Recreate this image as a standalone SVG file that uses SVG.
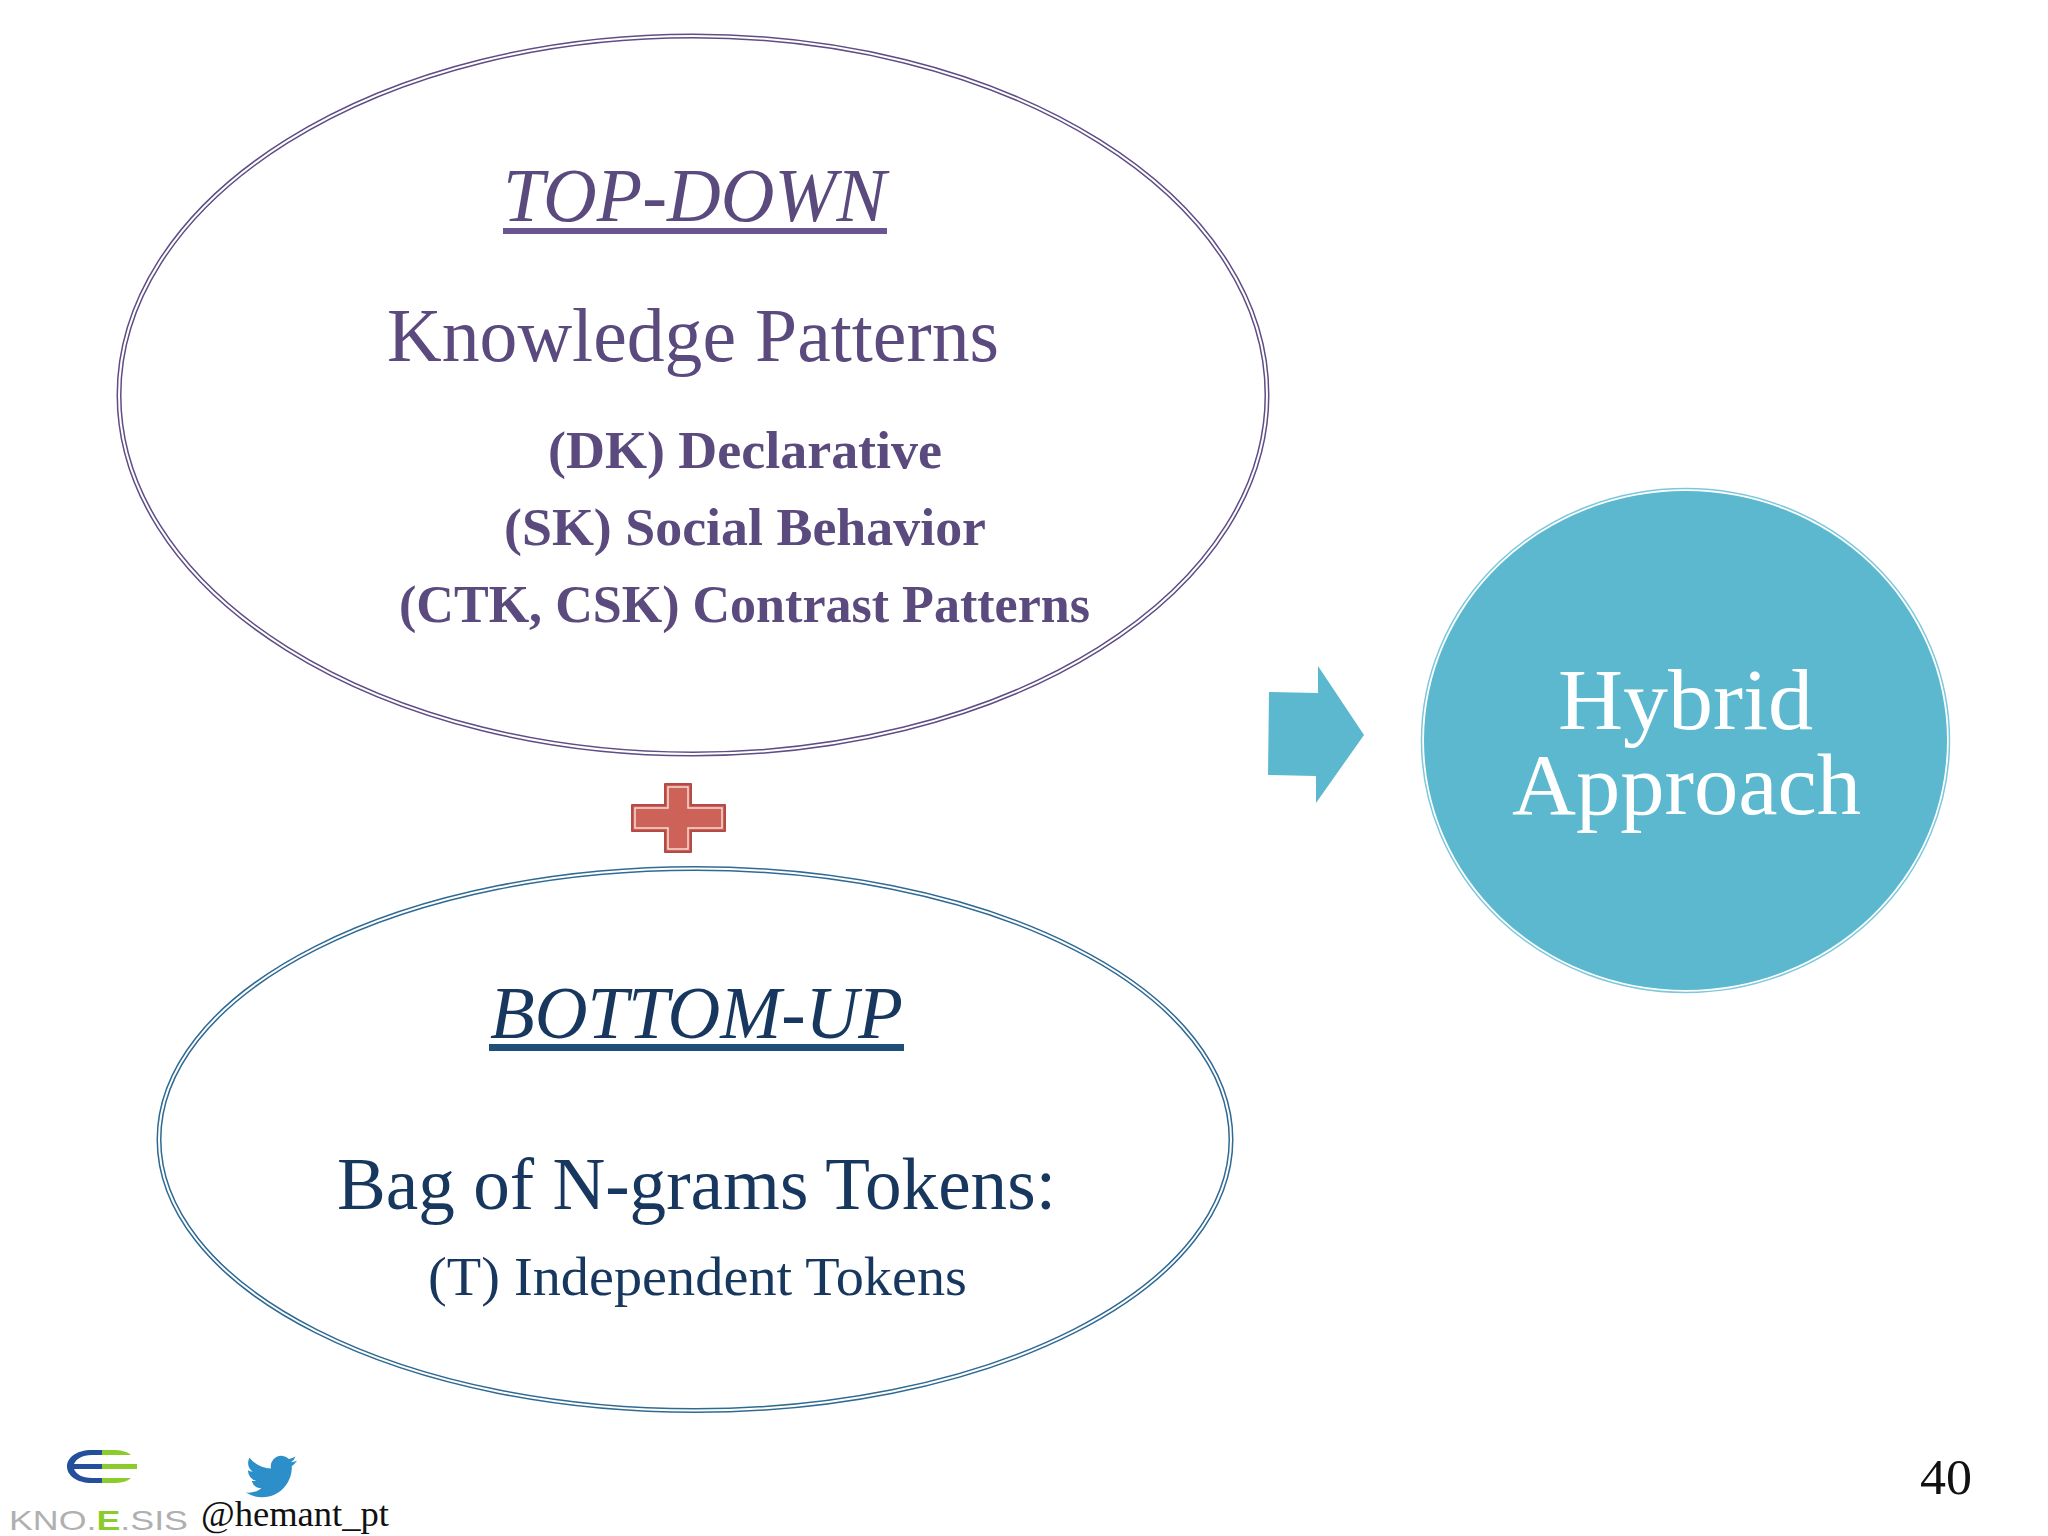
<svg xmlns="http://www.w3.org/2000/svg" width="2048" height="1536" viewBox="0 0 2048 1536">
<style>
text{font-family:"Liberation Serif","DejaVu Serif",serif}
.p{fill:#5b4a7e}
.b{fill:#17375e}
.w{fill:#fff}
.bd{font-weight:bold}
.i{font-style:italic}
.inner{fill:none;stroke:#fff;stroke-width:2}
</style>
<rect width="2048" height="1536" fill="#fff"/>
<g id="top-down">
<ellipse cx="693" cy="395" rx="574" ry="359" fill="#fff" stroke="#5f4d85" stroke-width="5"/>
<ellipse class="inner" cx="693" cy="395" rx="574" ry="359"/>
<text class="p i" x="503" y="221" font-size="76" textLength="383" lengthAdjust="spacingAndGlyphs">TOP-DOWN</text>
<rect x="503" y="228" width="384" height="6" fill="#6a5590"/>
<text class="p" x="387" y="361" font-size="76" textLength="612" lengthAdjust="spacingAndGlyphs">Knowledge Patterns</text>
<text class="p bd" x="548" y="468" font-size="52" textLength="394" lengthAdjust="spacingAndGlyphs">(DK) Declarative</text>
<text class="p bd" x="504" y="545" font-size="52" textLength="482" lengthAdjust="spacingAndGlyphs">(SK) Social Behavior</text>
<text class="p bd" x="399" y="622" font-size="52" textLength="691" lengthAdjust="spacingAndGlyphs">(CTK, CSK) Contrast Patterns</text>
</g>
<g id="bottom-up">
<ellipse cx="695" cy="1139.500" rx="536" ry="271" fill="#fff" stroke="#2f6a93" stroke-width="5"/>
<ellipse class="inner" cx="695" cy="1139.500" rx="536" ry="271"/>
<text class="b i" x="490" y="1038" font-size="74" textLength="413" lengthAdjust="spacingAndGlyphs">BOTTOM-UP</text>
<rect x="489" y="1044" width="415" height="7" fill="#1f4e79"/>
<text class="b" x="337" y="1209" font-size="74" textLength="719" lengthAdjust="spacingAndGlyphs">Bag of N-grams Tokens:</text>
<text class="b" x="428" y="1295" font-size="54" textLength="539" lengthAdjust="spacingAndGlyphs">(T) Independent Tokens</text>
</g>
<g id="hybrid">
<ellipse cx="1685.500" cy="740.500" rx="264" ry="252" fill="#fff" stroke="#7cc8da" stroke-width="1.500"/>
<ellipse cx="1685.500" cy="740.500" rx="261.500" ry="249.500" fill="#5bb8cf"/>
<text class="w" x="1558" y="729" font-size="86" textLength="255" lengthAdjust="spacingAndGlyphs">Hybrid</text>
<text class="w" x="1512" y="814" font-size="86" textLength="349" lengthAdjust="spacingAndGlyphs">Approach</text>
</g>
<g id="plus">
<path d="M665 784H691V805H725V831H691V852H665V831H632V805H665Z" fill="#cd6259" stroke="#b54a44" stroke-width="2" stroke-linejoin="round"/>
<path d="M668 787H688V808H722V828H688V849H668V828H635V808H668Z" fill="#cd6259" stroke="#f4dcd9" stroke-width="1.500"/>
</g>
<g id="connectors">
<polygon points="1269,692 1318,693 1318,666 1364,735 1316,803 1316,776 1268,775" fill="#5bb8cf"/>
</g>
<g id="logo">
<path d="M102 1450H92C76 1450 67 1458 67 1466.500C67 1475 76 1483 92 1483H102V1478H92C82 1478 76 1474 74 1469H102V1464H74C76 1459 82 1455 92 1455H102Z" fill="#24509b"/>
<path d="M102 1450H112C122 1450 128 1452 131 1455H102ZM102 1464H137V1469H102ZM102 1478H131C128 1481 122 1483 112 1483H102Z" fill="#8ccb2e"/>
<text x="9" y="1530" font-size="28" fill="#b0b0b0" style="font-family:'Liberation Sans',sans-serif" textLength="179" lengthAdjust="spacingAndGlyphs">KNO.<tspan fill="#8ccb2e" font-weight="bold">E</tspan>.SIS</text>
</g>
<g id="twitter">
<path transform="translate(246 1451) scale(2.125)" fill="#2d8fc9" d="M23.953 4.57a10 10 0 01-2.825.775 4.958 4.958 0 002.163-2.723c-.951.555-2.005.959-3.127 1.184a4.92 4.92 0 00-8.384 4.482C7.69 8.095 4.067 6.13 1.64 3.162a4.822 4.822 0 00-.666 2.475c0 1.71.87 3.213 2.188 4.096a4.904 4.904 0 01-2.228-.616v.06a4.923 4.923 0 003.946 4.827 4.996 4.996 0 01-2.212.085 4.936 4.936 0 004.604 3.417 9.867 9.867 0 01-6.102 2.105c-.39 0-.779-.023-1.17-.067a13.995 13.995 0 007.557 2.209c9.053 0 13.998-7.496 13.998-13.985 0-.21 0-.42-.015-.63A9.935 9.935 0 0024 4.59z"/>
<text x="201" y="1526" font-size="35" fill="#111" textLength="188" lengthAdjust="spacingAndGlyphs">@hemant_pt</text>
</g>
<text id="page-number" x="1920" y="1494" font-size="50" fill="#111" textLength="52" lengthAdjust="spacingAndGlyphs">40</text>
</svg>
